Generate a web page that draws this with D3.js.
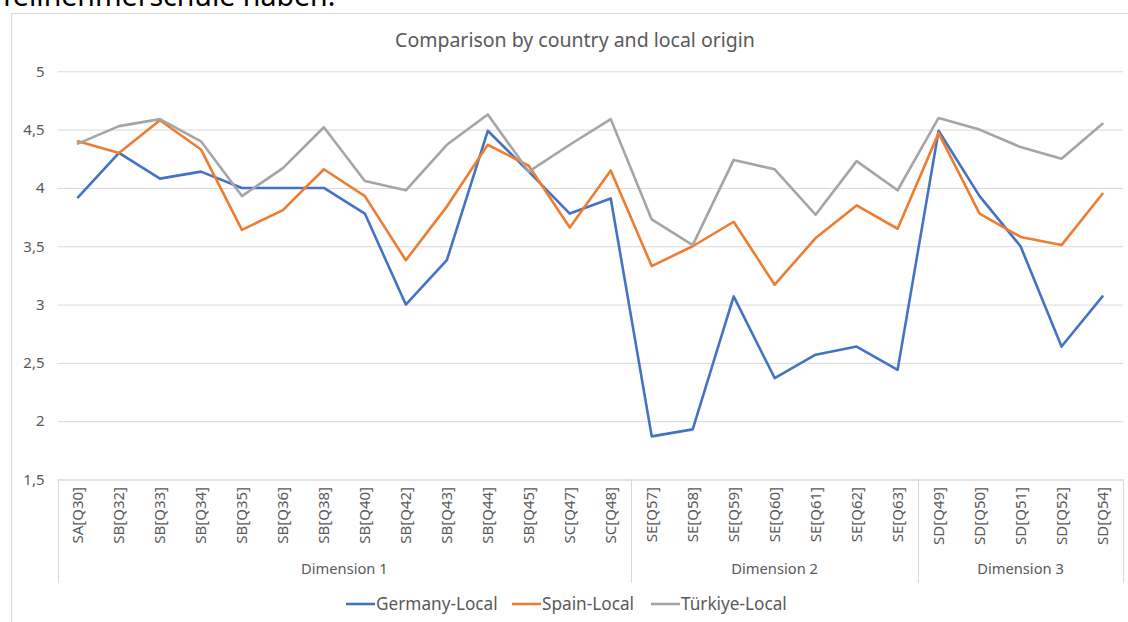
<!DOCTYPE html>
<html>
<head>
<meta charset="utf-8">
<script src="https://cdn.jsdelivr.net/npm/d3@7"></script>
<style>
  body { margin: 0; background: #fff; }
  svg { display: block; font-family: "Noto Sans", "Open Sans", sans-serif; }
</style>
</head>
<body>
<div id="chart"></div>
<script>
// categories and groups
var questions = ["SA[Q30]", "SB[Q32]", "SB[Q33]", "SB[Q34]", "SB[Q35]", "SB[Q36]", "SB[Q38]", "SB[Q40]",
  "SB[Q42]", "SB[Q43]", "SB[Q44]", "SB[Q45]", "SC[Q47]", "SC[Q48]",
  "SE[Q57]", "SE[Q58]", "SE[Q59]", "SE[Q60]", "SE[Q61]", "SE[Q62]", "SE[Q63]",
  "SD[Q49]", "SD[Q50]", "SD[Q51]", "SD[Q52]", "SD[Q54]"];
var dimensions = ["Dimension 1", "Dimension 2", "Dimension 3"];
var dimensionSizes = [14, 7, 5];

// series values
var germany = [3.92, 4.30, 4.08, 4.14, 4.00, 4.00, 4.00, 3.78, 3.00, 3.38, 4.49, 4.14, 3.78, 3.91,
  1.87, 1.93, 3.07, 2.37, 2.57, 2.64, 2.44, 4.49, 3.93, 3.50, 2.64, 3.07];
var spain = [4.40, 4.30, 4.58, 4.33, 3.64, 3.81, 4.16, 3.93, 3.38, 3.84, 4.37, 4.19, 3.66, 4.15,
  3.33, 3.50, 3.71, 3.17, 3.57, 3.85, 3.65, 4.47, 3.78, 3.58, 3.51, 3.95];
var turkiye = [4.38, 4.53, 4.59, 4.40, 3.93, 4.17, 4.52, 4.06, 3.98, 4.37, 4.63, 4.14, 4.37, 4.59,
  3.73, 3.51, 4.24, 4.16, 3.77, 4.23, 3.98, 4.60, 4.50, 4.35, 4.25, 4.55];

var seriesNames = ["Germany-Local", "Spain-Local", "Türkiye-Local"];
var yTicks = [1.5, 2, 2.5, 3, 3.5, 4, 4.5, 5];

var colors = ["#4472C4", "#ED7D31", "#A5A5A5"];
var series = [germany, spain, turkiye];

var width = 1128, height = 622;
var plot = { left: 57.5, right: 1123, top: 71.3, bottom: 479.5 };

var svg = d3.select("#chart")
  .append("svg")
    .attr("width", width)
    .attr("height", height);

// cut-off document text above the chart
svg.append("text")
  .attr("x", -1)
  .attr("y", 6)
  .attr("font-size", "28.5px")
  .attr("fill", "#000")
  .text("Teilnehmerschule haben.");

// chart frame
svg.append("rect")
  .attr("x", 11.5)
  .attr("y", 13.5)
  .attr("width", 1140)
  .attr("height", 640)
  .attr("fill", "#fff")
  .attr("stroke", "#d9d9d9")
  .attr("stroke-width", 1);

// Title
svg.append("text")
  .attr("x", 575)
  .attr("y", 47)
  .attr("font-size", "19.5px")
  .attr("fill", "#595959")
  .attr("text-anchor", "middle")
  .text("Comparison by country and local origin");

// Scales
var x = d3.scaleBand()
  .domain(questions)
  .range([plot.left, plot.right]);

var y = d3.scaleLinear()
  .domain([1.5, 5])
  .range([plot.bottom, plot.top]);

// Gridlines + Y labels
var yAxisCall = d3.axisLeft(y)
  .tickValues(yTicks)
  .tickSize(-(plot.right - plot.left))
  .tickPadding(13)
  .tickFormat(function(d) { return String(d).replace(".", ","); });

var yAxis = svg.append("g")
  .attr("transform", "translate(" + plot.left + ",0)")
  .call(yAxisCall);
yAxis.select(".domain").remove();
yAxis.selectAll("line").attr("stroke", "#d9d9d9").attr("stroke-width", 1);
yAxis.selectAll("text")
  .attr("fill", "#595959")
  .attr("font-size", "15px")
  .attr("font-family", "Noto Sans, sans-serif");

// X axis line
svg.append("line")
  .attr("x1", plot.left).attr("x2", plot.right)
  .attr("y1", y(1.5) + 0.5).attr("y2", y(1.5) + 0.5)
  .attr("stroke", "#d9d9d9");

// X category labels
svg.append("g").selectAll("text")
  .data(questions)
  .enter()
  .append("text")
    .attr("transform", function(d) { return "translate(" + (x(d) + x.bandwidth() / 2) + ",487) rotate(-90)"; })
    .attr("dy", "0.35em")
    .attr("text-anchor", "end")
    .attr("font-size", "15px")
    .attr("fill", "#595959")
    .text(function(d) { return d; });

// group boundaries and labels
var start = 0;
var bounds = [0];
dimensionSizes.forEach(function(n) { start += n; bounds.push(start); });

svg.append("g").selectAll("line")
  .data(bounds)
  .enter()
  .append("line")
    .attr("x1", function(i) { return Math.round(plot.left + i * x.step()) + 0.5; })
    .attr("x2", function(i) { return Math.round(plot.left + i * x.step()) + 0.5; })
    .attr("y1", y(1.5))
    .attr("y2", 583)
    .attr("stroke", "#d9d9d9");

svg.append("g").selectAll("text")
  .data(dimensions)
  .enter()
  .append("text")
    .attr("x", function(d, i) { return plot.left + (bounds[i] + bounds[i + 1]) / 2 * x.step(); })
    .attr("y", 574)
    .attr("text-anchor", "middle")
    .attr("font-size", "14.7px")
    .attr("fill", "#595959")
    .text(function(d) { return d; });

// Lines
var line = d3.line()
  .x(function(d, i) { return x(questions[i]) + x.bandwidth() / 2; })
  .y(function(d) { return y(d); });

svg.append("g").selectAll("path")
  .data(series)
  .enter()
  .append("path")
    .attr("d", line)
    .attr("fill", "none")
    .attr("stroke", function(d, i) { return colors[i]; })
    .attr("stroke-width", 2.6)
    .attr("stroke-linejoin", "round")
    .attr("stroke-linecap", "round");

// Legend
var legendX = [346, 512, 651];
var legend = svg.append("g").selectAll("g")
  .data(seriesNames)
  .enter()
  .append("g")
    .attr("transform", function(d, i) { return "translate(" + legendX[i] + ",604)"; });

legend.append("line")
  .attr("x1", 0).attr("x2", 29)
  .attr("stroke", function(d, i) { return colors[i]; })
  .attr("stroke-width", 2.6);

legend.append("text")
  .attr("x", 30)
  .attr("dy", "0.35em")
  .attr("font-size", "17.2px")
  .attr("fill", "#595959")
  .text(function(d) { return d; });
</script>
</body>
</html>
